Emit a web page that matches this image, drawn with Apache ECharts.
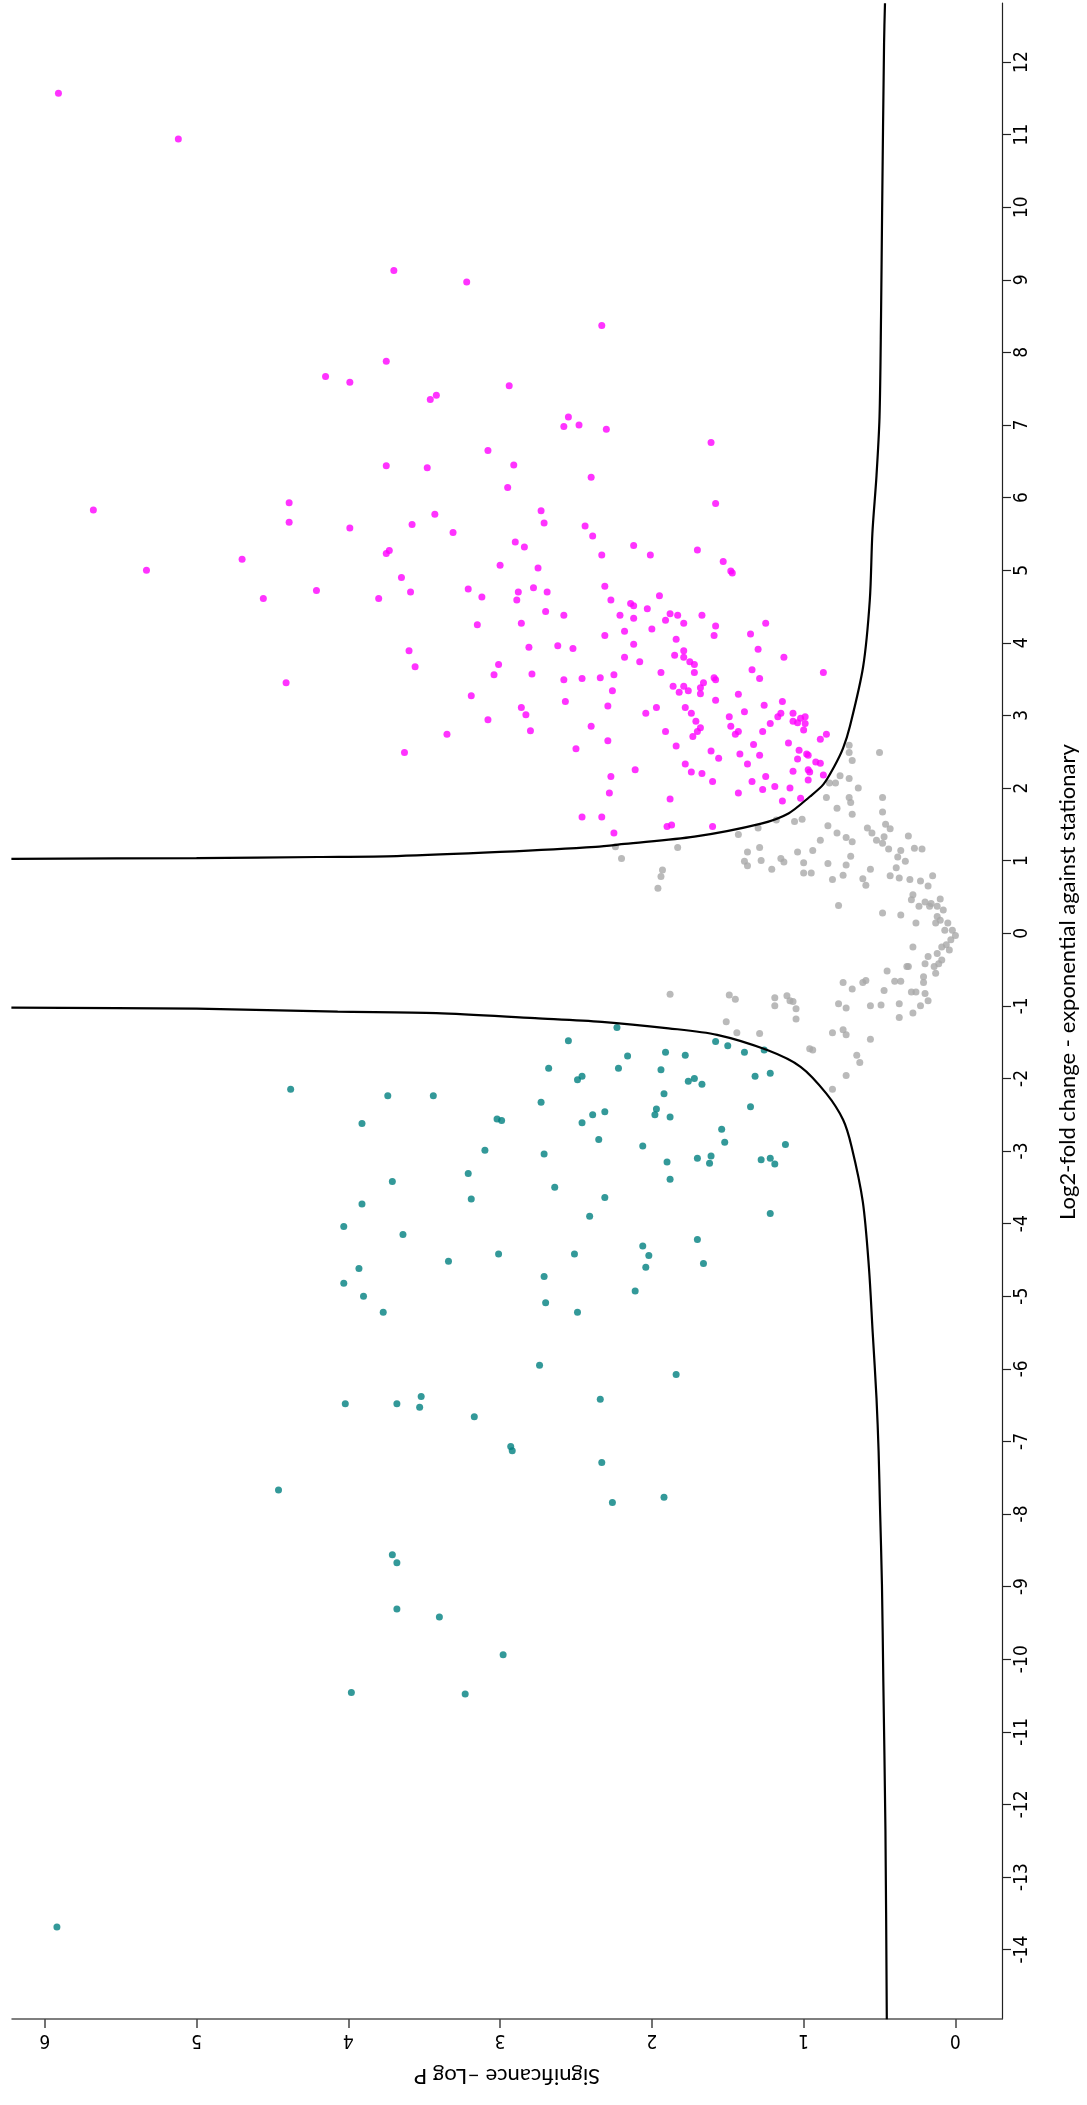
<!DOCTYPE html>
<html><head><meta charset="utf-8">
<script src="https://cdn.jsdelivr.net/npm/echarts@6/dist/echarts.min.js"></script>
<style>html,body{margin:0;padding:0;background:#fff}#c{width:1087px;height:2105px}</style>
</head><body><div id="c"></div>
<script>
// Significance (-log P) tick labels and log2 fold-change tick labels
const sigTicks = [0, 1, 2, 3, 4, 5, 6];
const fcTicks = [-14, -13, -12, -11, -10, -9, -8, -7, -6, -5, -4, -3, -2, -1, 0, 1, 2, 3, 4, 5, 6, 7, 8, 9, 10, 11, 12];

// Points: [significance, log2 fold change]
const upRegulated = [
[5.91,11.57],[5.12,10.94],
[3.70,9.13],[3.22,8.97],[2.33,8.37],[3.75,7.88],[4.15,7.67],[3.99,7.59],[3.46,7.35],[3.42,7.41],[2.94,7.54],
[3.75,6.44],[4.39,5.93],[4.39,5.66],[3.99,5.58],[4.70,5.15],[5.33,5.00],[4.56,4.61],[4.21,4.72],[3.75,5.23],[3.73,5.27],[3.80,4.61],[4.41,3.45],[5.68,5.83],
[2.55,7.11],[2.58,6.98],[2.48,7.00],[2.30,6.94],[1.61,6.76],[3.08,6.65],[3.48,6.41],[2.91,6.45],[2.40,6.28],[2.95,6.14],
[1.58,5.92],[2.73,5.82],[3.43,5.77],[2.71,5.65],[3.58,5.63],[2.44,5.61],[3.31,5.52],[2.39,5.47],[2.90,5.39],[2.84,5.32],
[2.12,5.34],[2.01,5.21],[2.33,5.21],[1.70,5.28],[1.53,5.12],[1.48,4.99],[1.47,4.96],[3.00,5.07],[2.75,5.03],[3.65,4.90],
[3.59,4.70],[3.21,4.74],[3.12,4.63],[2.88,4.70],[2.89,4.59],[2.78,4.76],[2.69,4.70],[2.31,4.78],[2.27,4.59],[2.14,4.54],
[2.12,4.51],[1.95,4.65],[2.03,4.47],[2.70,4.43],[2.58,4.38],[3.15,4.25],[2.86,4.27],[2.21,4.38],[2.12,4.34],[2.18,4.16],
[2.00,4.19],[1.88,4.40],[1.83,4.38],[1.91,4.31],[1.79,4.27],[1.67,4.38],[1.58,4.23],[1.59,4.10],[1.25,4.27],[1.35,4.12],
[2.31,4.10],[1.84,4.05],[3.60,3.89],[3.56,3.67],[2.81,3.94],[2.62,3.96],[2.52,3.92],[2.12,3.98],[2.18,3.80],[2.08,3.74],
[1.79,3.89],[1.85,3.83],[1.79,3.80],[1.75,3.74],[1.72,3.70],[1.30,3.91],[1.13,3.80],[3.01,3.70],[3.04,3.56],[2.79,3.57],
[2.58,3.49],[2.46,3.51],[2.34,3.52],[2.25,3.56],[2.26,3.34],[1.94,3.59],[1.72,3.59],[1.59,3.52],[1.58,3.49],[1.34,3.63],
[1.29,3.51],[0.87,3.59],[1.66,3.45],[1.68,3.38],[1.68,3.30],[1.86,3.40],[1.79,3.40],[1.82,3.32],[1.76,3.34],[3.19,3.27],
[2.57,3.19],[2.29,3.13],[2.86,3.11],[2.83,3.01],[3.08,2.94],[2.80,2.79],[3.35,2.74],[3.63,2.49],[2.40,2.85],[2.29,2.65],
[2.50,2.54],[2.04,3.03],[1.97,3.11],[1.78,3.11],[1.74,3.03],[1.71,2.92],[1.68,2.83],[1.70,2.78],[1.73,2.71],[1.91,2.78],
[1.84,2.58],[1.58,3.21],[1.43,3.29],[1.39,3.05],[1.49,2.98],[1.48,2.85],[1.45,2.74],[1.43,2.78],[1.27,2.78],[1.26,3.14],
[1.22,2.89],[1.17,2.98],[1.15,3.03],[1.14,3.19],[1.07,3.03],[1.07,2.92],[1.04,2.90],[1.02,2.96],[0.99,2.98],[0.99,2.89],
[1.00,2.80],[1.10,2.62],[1.33,2.60],[1.42,2.47],[1.37,2.33],[1.29,2.45],[1.61,2.51],[1.56,2.41],[1.78,2.33],[1.74,2.22],
[1.67,2.20],[1.60,2.09],[2.11,2.25],[2.27,2.16],[2.28,1.93],[1.88,1.85],[2.46,1.60],[2.33,1.60],[2.25,1.38],[1.90,1.47],
[1.87,1.49],[1.60,1.47],[1.43,1.93],[1.34,2.09],[1.27,1.98],[1.25,2.16],[1.19,2.02],[1.09,2.00],[1.14,1.82],[1.02,1.86],
[1.07,2.23],[1.04,2.40],[1.03,2.52],[0.98,2.47],[0.97,2.45],[0.97,2.25],[0.96,2.22],[0.97,2.11],[0.92,2.36],[0.89,2.34],
[0.89,2.67],[0.85,2.74],[0.87,2.18]
];

const downRegulated = [
[2.23,-1.30],[2.55,-1.48],[2.16,-1.69],[1.91,-1.64],[1.78,-1.68],[1.58,-1.49],[1.50,-1.55],[1.39,-1.64],[1.26,-1.61],
[2.68,-1.86],[2.22,-1.86],[1.94,-1.88],[2.49,-2.02],[2.46,-1.97],[1.76,-2.04],[1.72,-2.00],[1.67,-2.08],[1.32,-1.97],
[1.22,-1.93],[1.92,-2.21],[3.74,-2.24],[3.44,-2.24],[2.73,-2.33],[1.97,-2.42],[1.98,-2.50],[1.88,-2.53],[1.35,-2.39],
[2.39,-2.50],[2.31,-2.46],[2.46,-2.61],[3.91,-2.62],[3.02,-2.56],[2.99,-2.58],[1.54,-2.70],[1.52,-2.88],[2.35,-2.84],
[2.06,-2.93],[1.12,-2.91],[3.10,-2.99],[2.71,-3.04],[1.90,-3.15],[1.70,-3.10],[1.61,-3.07],[1.62,-3.17],[1.28,-3.12],
[1.22,-3.10],[1.19,-3.18],[1.88,-3.39],[3.21,-3.31],[3.71,-3.42],[2.64,-3.50],[2.31,-3.64],[3.19,-3.66],[3.91,-3.73],
[2.41,-3.90],[1.22,-3.86],[4.03,-4.04],[3.64,-4.15],[1.70,-4.22],[2.06,-4.31],[2.02,-4.44],[1.66,-4.55],[2.04,-4.60],
[3.34,-4.52],[3.01,-4.42],[2.51,-4.42],[3.93,-4.62],[4.03,-4.82],[3.90,-5.00],[3.77,-5.22],[2.71,-4.73],[2.70,-5.09],
[2.49,-5.22],[2.11,-4.93],[2.74,-5.95],[1.84,-6.08],[4.02,-6.48],[3.68,-6.48],[3.52,-6.38],[3.53,-6.53],[3.17,-6.66],
[2.34,-6.42],[2.93,-7.07],[2.92,-7.13],[2.33,-7.29],[2.26,-7.84],[1.92,-7.77],[4.38,-2.15],
[4.46,-7.67],[3.71,-8.56],[3.68,-8.67],[3.68,-9.31],[3.40,-9.42],[2.98,-9.94],[3.98,-10.46],[3.23,-10.48],[5.92,-13.69]
];

const notSignificant = [
[2.24,1.19],[2.20,1.03],
[0.70,2.59],[0.70,2.49],[0.68,2.38],[0.50,2.49],[0.83,2.07],[0.79,2.07],[0.76,2.17],[0.70,2.13],[0.64,2.00],[0.85,1.87],
[0.78,1.72],[0.70,1.87],[0.69,1.80],[0.68,1.64],[0.48,1.87],[0.48,1.67],[0.84,1.48],[0.78,1.38],[0.89,1.28],[0.72,1.32],
[0.68,1.26],[0.58,1.45],[0.55,1.38],[0.52,1.28],[0.47,1.33],[0.46,1.50],[0.43,1.44],[0.48,1.24],[0.44,1.16],[0.31,1.34],
[0.27,1.17],[0.22,1.16],[0.36,1.14],[0.38,1.05],[0.33,0.99],[0.39,0.90],[0.43,0.79],[0.37,0.76],[0.30,0.74],[0.23,0.72],
[0.15,0.79],[0.18,0.65],[0.28,0.53],[0.29,0.46],[0.24,0.37],[0.20,0.43],[0.16,0.41],[0.12,0.37],[0.10,0.47],[0.08,0.32],
[0.12,0.23],[0.05,0.14],[0.02,0.04],[0.00,-0.03],[0.03,-0.09],[0.06,-0.16],[0.12,-0.28],[0.18,-0.32],[0.09,-0.37],
[0.14,-0.46],[0.13,-0.55],[0.21,-0.60],[0.21,-0.68],[0.26,-0.81],[0.29,-0.81],[0.20,-0.83],[0.18,-0.93],[0.23,-1.00],
[0.28,-1.10],[0.37,-1.16],[0.37,-0.97],[0.31,-0.46],[0.28,-0.19],[0.26,0.14],[0.13,0.14],[0.48,0.28],[0.36,0.25],
[0.17,0.37],[0.10,0.18],[0.07,0.04],[0.04,-0.23],[0.09,-0.19],[0.11,-0.42],[0.45,-0.52],[0.40,-0.66],[0.36,-0.66],
[0.32,-0.46],[0.59,-0.65],[0.61,-0.68],[0.47,-0.79],[0.74,-0.68],[0.68,-0.77],[0.77,-0.97],[0.72,-1.03],[0.56,-1.00],
[0.49,-0.99],[0.61,0.75],[0.59,0.66],[0.77,0.38],[0.74,0.80],[0.81,0.74],[0.69,1.06],[0.72,0.94],[0.56,0.88],[0.84,0.96],
[0.94,1.14],[1.00,0.97],[0.95,0.83],[1.00,0.83],[1.04,1.12],[1.06,1.54],[1.01,1.57],[1.13,0.98],[1.15,1.03],[1.21,0.88],
[1.28,1.00],[1.29,1.18],[1.18,1.56],[1.30,1.45],[1.43,1.36],[1.37,1.12],[1.39,0.99],[1.37,0.93],[1.83,1.18],[1.93,0.87],
[1.94,0.78],[1.96,0.62],[1.88,-0.84],[1.49,-0.85],[1.45,-0.91],[1.19,-0.89],[1.19,-1.00],[1.11,-0.86],[1.09,-0.93],
[1.07,-0.94],[1.05,-1.04],[1.05,-1.18],[1.51,-1.22],[1.44,-1.37],[1.29,-1.38],[0.81,-1.37],[0.74,-1.33],[0.72,-1.40],
[0.56,-1.46],[0.96,-1.59],[0.94,-1.61],[0.65,-1.68],[0.63,-1.78],[0.72,-1.96],[0.81,-2.15],[0.20,-0.42]
];

// Threshold curves: [significance, log2 fold change]
const thresholdPositive = [
[6.22,1.025],[5.0,1.035],[4.2,1.05],[3.68,1.063],[3.0,1.12],[2.37,1.19],[2.18,1.23],[1.72,1.33],[1.28,1.51],[1.10,1.65],
[0.96,1.88],[0.87,2.05],[0.80,2.29],[0.74,2.55],[0.695,2.85],[0.608,3.67],[0.564,4.59],[0.547,5.51],[0.52,6.3],[0.50,7.11],
[0.49,8.5],[0.483,9.93],[0.47,12.27],[0.464,12.81]
];
const thresholdNegative = [
[6.22,-1.025],[5.0,-1.04],[4.07,-1.08],[3.42,-1.10],[2.77,-1.17],[2.33,-1.22],[1.89,-1.31],[1.57,-1.40],[1.24,-1.61],
[1.02,-1.84],[0.85,-2.21],[0.74,-2.57],[0.684,-2.94],[0.61,-3.7],[0.57,-4.6],[0.545,-5.5],[0.52,-6.4],[0.506,-7.14],
[0.497,-7.9],[0.484,-8.97],[0.475,-10.3],[0.461,-12.36],[0.452,-14.96]
];

const tickFont = "'Liberation Sans Narrow','DejaVu Sans Condensed',sans-serif";
const chart = echarts.init(document.getElementById('c'), null, {renderer: 'canvas'});
chart.setOption({
  animation: false,
  backgroundColor: '#ffffff',
  grid: {left: 12, top: 3, right: 77, bottom: 86, containLabel: false},
  xAxis: {
    type: 'value', min: -0.307, max: 6.216, inverse: true, position: 'bottom',
    name: 'Significance –Log P', nameLocation: 'middle', nameRotate: 180, nameGap: 46,
    nameTextStyle: {fontFamily: 'Lato', fontSize: 22, color: '#000'},
    axisLine: {onZero: false, lineStyle: {color: '#555', width: 1.5}},
    axisTick: {customValues: sigTicks, length: 9, lineStyle: {color: '#444', width: 1.5}},
    axisLabel: {customValues: sigTicks, rotate: 180, margin: 11, fontFamily: tickFont, fontSize: 19, color: '#000'},
    splitLine: {show: false}
  },
  yAxis: {
    type: 'value', min: -14.956, max: 12.813, position: 'right',
    name: 'Log2-fold change - exponential against stationary', nameLocation: 'middle', nameRotate: 90, nameGap: 55,
    nameTextStyle: {fontFamily: 'Lato', fontSize: 22, color: '#000', padding: [0, 0, 0, 58]},
    axisLine: {onZero: false, lineStyle: {color: '#222', width: 1.2}},
    axisTick: {customValues: fcTicks, length: 9, lineStyle: {color: '#222', width: 1.2}},
    axisLabel: {customValues: fcTicks, rotate: 90, margin: 11, fontFamily: tickFont, fontSize: 19, color: '#000'},
    splitLine: {show: false}
  },
  series: [
    {name: 'not significant', type: 'scatter', data: notSignificant, symbolSize: 7, itemStyle: {color: '#a9a9a9'}},
    {name: 'up', type: 'scatter', data: upRegulated, symbolSize: 7, itemStyle: {color: '#ff00ff'}},
    {name: 'down', type: 'scatter', data: downRegulated, symbolSize: 7, itemStyle: {color: '#008080'}},
    {name: 'threshold +', type: 'line', data: thresholdPositive, showSymbol: false, smooth: 0.3, lineStyle: {color: '#000', width: 2.2}, z: 3},
    {name: 'threshold -', type: 'line', data: thresholdNegative, showSymbol: false, smooth: 0.3, lineStyle: {color: '#000', width: 2.2}, z: 3}
  ]
});
</script>
</body></html>
